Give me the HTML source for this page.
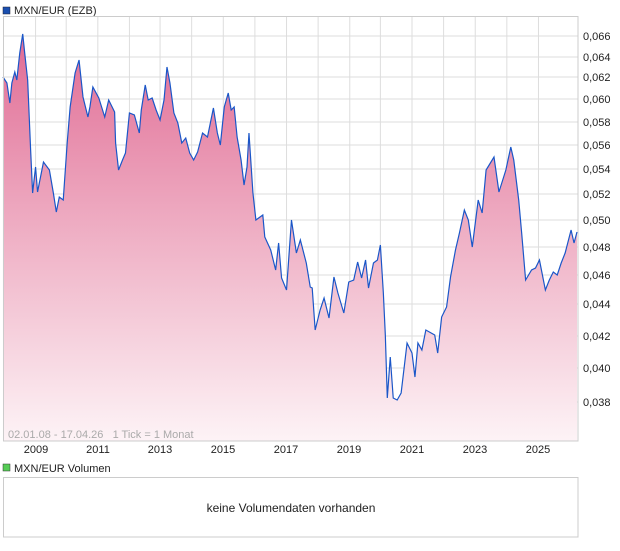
<!DOCTYPE html>
<html><head><meta charset="utf-8"><style>
body{margin:0;background:#fff;width:620px;height:546px;overflow:hidden;font-family:"Liberation Sans",sans-serif}
</style></head><body>
<svg width="620" height="546" xmlns="http://www.w3.org/2000/svg" font-family="Liberation Sans, sans-serif">
<defs>
<linearGradient id="g" gradientUnits="userSpaceOnUse" x1="0" y1="30" x2="0" y2="441">
<stop offset="0" stop-color="#e06a93"/><stop offset="0.5" stop-color="#efb0c5"/><stop offset="1" stop-color="#fdf3f6"/>
</linearGradient>
</defs>
<rect x="3" y="7" width="7" height="7" fill="#1a4fb0" stroke="#223" stroke-width="0.5"/>
<text x="14" y="14" font-size="11" fill="#222">MXN/EUR (EZB)</text>
<g stroke="#ddd" stroke-width="1">
<line x1="3" y1="36" x2="578" y2="36"/><line x1="3" y1="57" x2="578" y2="57"/><line x1="3" y1="77" x2="578" y2="77"/><line x1="3" y1="99" x2="578" y2="99"/><line x1="3" y1="122" x2="578" y2="122"/><line x1="3" y1="145" x2="578" y2="145"/><line x1="3" y1="169" x2="578" y2="169"/><line x1="3" y1="194" x2="578" y2="194"/><line x1="3" y1="220" x2="578" y2="220"/><line x1="3" y1="247" x2="578" y2="247"/><line x1="3" y1="275" x2="578" y2="275"/><line x1="3" y1="304" x2="578" y2="304"/><line x1="3" y1="336" x2="578" y2="336"/><line x1="3" y1="368" x2="578" y2="368"/><line x1="3" y1="402" x2="578" y2="402"/>
<g transform="scale(0.988,1)">
<line x1="36" y1="16" x2="36" y2="441"/><line x1="67" y1="16" x2="67" y2="441"/><line x1="99" y1="16" x2="99" y2="441"/><line x1="131" y1="16" x2="131" y2="441"/><line x1="162" y1="16" x2="162" y2="441"/><line x1="194" y1="16" x2="194" y2="441"/><line x1="226" y1="16" x2="226" y2="441"/><line x1="258" y1="16" x2="258" y2="441"/><line x1="290" y1="16" x2="290" y2="441"/><line x1="322" y1="16" x2="322" y2="441"/><line x1="354" y1="16" x2="354" y2="441"/><line x1="385" y1="16" x2="385" y2="441"/><line x1="417" y1="16" x2="417" y2="441"/><line x1="449" y1="16" x2="449" y2="441"/><line x1="481" y1="16" x2="481" y2="441"/><line x1="513" y1="16" x2="513" y2="441"/><line x1="545" y1="16" x2="545" y2="441"/>
</g>
</g>
<g transform="scale(0.988,1)">
<path fill="url(#g)" d="M3,441 L3,77 7,83 10,103 12,83 15,72 17,80 20,53 23,34 25,53 28,80 31,150 33,193 36,167 38,192 44,162 50,170 54,193 57,212 60,197 64,200 68,143 71,107 76,73 80,60 84,97 89,117 91,107 94,87 100,98 106,117 110,100 116,112 117,143 120,170 124,160 127,153 131,113 136,115 141,133 143,110 147,85 150,100 154,98 158,110 162,120 166,100 169,67 172,83 176,113 180,123 184,143 188,138 192,153 196,160 200,152 205,133 210,137 216,108 220,133 223,145 227,107 231,93 234,110 237,107 240,137 244,160 247,185 250,167 252,133 256,193 259,220 266,215 268,237 274,250 279,270 282,243 285,278 290,290 295,220 300,253 304,240 310,263 314,287 316,288 319,330 324,310 328,298 333,318 338,277 342,293 348,313 353,282 358,280 362,262 366,278 370,260 373,288 378,263 382,260 385,245 388,293 390,335 392,398 395,357 398,398 402,400 406,393 412,343 417,353 420,377 423,343 427,350 431,330 440,335 443,353 447,317 452,307 456,277 461,250 465,233 470,210 474,220 478,247 484,200 488,213 492,170 500,157 505,192 512,170 517,147 520,160 525,200 528,233 532,280 538,270 542,268 546,260 552,290 556,280 560,272 564,275 568,263 572,253 578,230 581,243 584,232 L584,441 Z"/>
<path fill="none" stroke="#1a56c8" stroke-width="1.2" d="M3,77 7,83 10,103 12,83 15,72 17,80 20,53 23,34 25,53 28,80 31,150 33,193 36,167 38,192 44,162 50,170 54,193 57,212 60,197 64,200 68,143 71,107 76,73 80,60 84,97 89,117 91,107 94,87 100,98 106,117 110,100 116,112 117,143 120,170 124,160 127,153 131,113 136,115 141,133 143,110 147,85 150,100 154,98 158,110 162,120 166,100 169,67 172,83 176,113 180,123 184,143 188,138 192,153 196,160 200,152 205,133 210,137 216,108 220,133 223,145 227,107 231,93 234,110 237,107 240,137 244,160 247,185 250,167 252,133 256,193 259,220 266,215 268,237 274,250 279,270 282,243 285,278 290,290 295,220 300,253 304,240 310,263 314,287 316,288 319,330 324,310 328,298 333,318 338,277 342,293 348,313 353,282 358,280 362,262 366,278 370,260 373,288 378,263 382,260 385,245 388,293 390,335 392,398 395,357 398,398 402,400 406,393 412,343 417,353 420,377 423,343 427,350 431,330 440,335 443,353 447,317 452,307 456,277 461,250 465,233 470,210 474,220 478,247 484,200 488,213 492,170 500,157 505,192 512,170 517,147 520,160 525,200 528,233 532,280 538,270 542,268 546,260 552,290 556,280 560,272 564,275 568,263 572,253 578,230 581,243 584,232"/>
</g>
<rect x="3.5" y="16.5" width="574.5" height="424.5" fill="none" stroke="#ccc"/>
<g font-size="11" fill="#222">
<text x="583" y="40">0,066</text><text x="583" y="61">0,064</text><text x="583" y="81">0,062</text><text x="583" y="103">0,060</text><text x="583" y="126">0,058</text><text x="583" y="149">0,056</text><text x="583" y="173">0,054</text><text x="583" y="198">0,052</text><text x="583" y="224">0,050</text><text x="583" y="251">0,048</text><text x="583" y="279">0,046</text><text x="583" y="308">0,044</text><text x="583" y="340">0,042</text><text x="583" y="372">0,040</text><text x="583" y="406">0,038</text>
</g>
<g font-size="11" fill="#222" text-anchor="middle">
<text x="36" y="453">2009</text><text x="98" y="453">2011</text><text x="160" y="453">2013</text><text x="223" y="453">2015</text><text x="286" y="453">2017</text><text x="349" y="453">2019</text><text x="412" y="453">2021</text><text x="475" y="453">2023</text><text x="538" y="453">2025</text>
</g>
<text x="8" y="438" font-size="11" fill="#aaa" xml:space="preserve">02.01.08 - 17.04.26   1 Tick = 1 Monat</text>
<rect x="3" y="464" width="7" height="7" fill="#5c5" stroke="#333" stroke-width="0.5"/>
<text x="14" y="472" font-size="11" fill="#222">MXN/EUR Volumen</text>
<rect x="3.5" y="477.5" width="574.5" height="59.5" fill="none" stroke="#ccc"/>
<text x="291" y="512" font-size="12" fill="#222" text-anchor="middle">keine Volumendaten vorhanden</text>
</svg>
</body></html>
